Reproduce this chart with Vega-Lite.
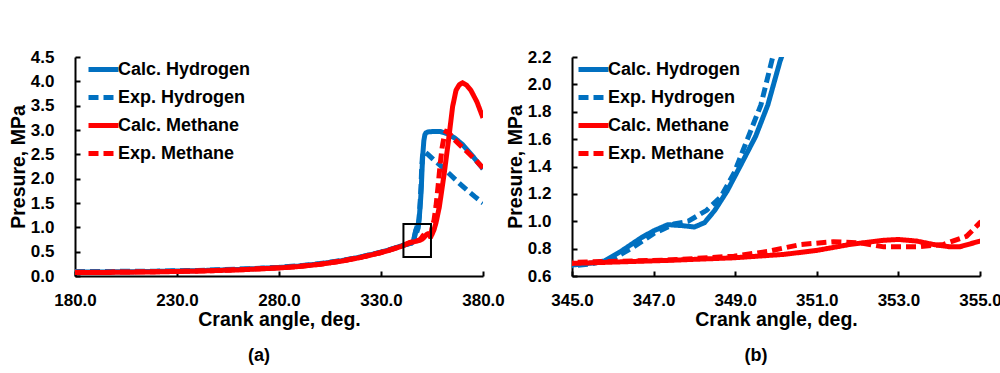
{
  "$schema": "https://vega.github.io/schema/vega-lite/v6.json",
  "padding": {"left": 8, "top": 48, "right": 5, "bottom": 5},
  "background": "white",
  "spacing": 89,
  "bounds": "flush",
  "config": {
    "font": "Liberation Sans",
    "view": {"stroke": null},
    "axis": {
      "grid": false,
      "domainColor": "black",
      "domainWidth": 2,
      "tickColor": "black",
      "tickWidth": 2,
      "tickSize": -5,
      "labelFlush": false,
      "labelOverlap": false,
      "labelFont": "Liberation Sans",
      "labelFontSize": 17,
      "labelFontWeight": "bold",
      "labelColor": "black",
      "titleFont": "Liberation Sans",
      "titleFontSize": 19.5,
      "titleFontWeight": "bold",
      "titleColor": "black"
    },
    "legend": {
      "orient": "none",
      "title": null,
      "labelFont": "Liberation Sans",
      "labelFontSize": 18,
      "labelFontWeight": "bold",
      "labelColor": "black",
      "symbolType": "stroke",
      "symbolSize": 900,
      "symbolStrokeWidth": 5,
      "labelOffset": -3,
      "rowPadding": 0,
      "padding": 0
    },
    "title": {"font": "Liberation Sans", "fontSize": 18, "fontWeight": "bold", "color": "black"}
  },
  "datasets": {
    "curves": [
      {"angle": 180, "p": 0.08, "series": "Calc. Hydrogen"},
      {"angle": 200, "p": 0.085, "series": "Calc. Hydrogen"},
      {"angle": 220, "p": 0.095, "series": "Calc. Hydrogen"},
      {"angle": 240, "p": 0.11, "series": "Calc. Hydrogen"},
      {"angle": 260, "p": 0.135, "series": "Calc. Hydrogen"},
      {"angle": 280, "p": 0.175, "series": "Calc. Hydrogen"},
      {"angle": 290, "p": 0.205, "series": "Calc. Hydrogen"},
      {"angle": 300, "p": 0.25, "series": "Calc. Hydrogen"},
      {"angle": 310, "p": 0.31, "series": "Calc. Hydrogen"},
      {"angle": 320, "p": 0.39, "series": "Calc. Hydrogen"},
      {"angle": 330, "p": 0.49, "series": "Calc. Hydrogen"},
      {"angle": 335, "p": 0.55, "series": "Calc. Hydrogen"},
      {"angle": 340, "p": 0.62, "series": "Calc. Hydrogen"},
      {"angle": 344, "p": 0.67, "series": "Calc. Hydrogen"},
      {"angle": 345, "p": 0.68, "series": "Calc. Hydrogen"},
      {"angle": 345.5, "p": 0.695, "series": "Calc. Hydrogen"},
      {"angle": 345.8, "p": 0.71, "series": "Calc. Hydrogen"},
      {"angle": 346.2, "p": 0.78, "series": "Calc. Hydrogen"},
      {"angle": 346.7, "p": 0.88, "series": "Calc. Hydrogen"},
      {"angle": 347.0, "p": 0.93, "series": "Calc. Hydrogen"},
      {"angle": 347.35, "p": 0.975, "series": "Calc. Hydrogen"},
      {"angle": 347.7, "p": 0.968, "series": "Calc. Hydrogen"},
      {"angle": 348.0, "p": 0.958, "series": "Calc. Hydrogen"},
      {"angle": 348.25, "p": 0.99, "series": "Calc. Hydrogen"},
      {"angle": 348.5, "p": 1.08, "series": "Calc. Hydrogen"},
      {"angle": 348.8, "p": 1.22, "series": "Calc. Hydrogen"},
      {"angle": 349.1, "p": 1.39, "series": "Calc. Hydrogen"},
      {"angle": 349.5, "p": 1.62, "series": "Calc. Hydrogen"},
      {"angle": 349.8, "p": 1.85, "series": "Calc. Hydrogen"},
      {"angle": 350.1, "p": 2.17, "series": "Calc. Hydrogen"},
      {"angle": 350.5, "p": 2.5, "series": "Calc. Hydrogen"},
      {"angle": 351, "p": 2.78, "series": "Calc. Hydrogen"},
      {"angle": 351.5, "p": 2.9, "series": "Calc. Hydrogen"},
      {"angle": 352, "p": 2.94, "series": "Calc. Hydrogen"},
      {"angle": 353, "p": 2.96, "series": "Calc. Hydrogen"},
      {"angle": 356, "p": 2.97, "series": "Calc. Hydrogen"},
      {"angle": 359, "p": 2.97, "series": "Calc. Hydrogen"},
      {"angle": 362, "p": 2.93, "series": "Calc. Hydrogen"},
      {"angle": 366, "p": 2.84, "series": "Calc. Hydrogen"},
      {"angle": 370, "p": 2.7, "series": "Calc. Hydrogen"},
      {"angle": 375, "p": 2.46, "series": "Calc. Hydrogen"},
      {"angle": 380, "p": 2.2, "series": "Calc. Hydrogen"},

      {"angle": 180, "p": 0.09, "series": "Exp. Hydrogen"},
      {"angle": 200, "p": 0.095, "series": "Exp. Hydrogen"},
      {"angle": 220, "p": 0.1, "series": "Exp. Hydrogen"},
      {"angle": 240, "p": 0.115, "series": "Exp. Hydrogen"},
      {"angle": 260, "p": 0.14, "series": "Exp. Hydrogen"},
      {"angle": 280, "p": 0.18, "series": "Exp. Hydrogen"},
      {"angle": 290, "p": 0.21, "series": "Exp. Hydrogen"},
      {"angle": 300, "p": 0.255, "series": "Exp. Hydrogen"},
      {"angle": 310, "p": 0.315, "series": "Exp. Hydrogen"},
      {"angle": 320, "p": 0.39, "series": "Exp. Hydrogen"},
      {"angle": 330, "p": 0.49, "series": "Exp. Hydrogen"},
      {"angle": 335, "p": 0.55, "series": "Exp. Hydrogen"},
      {"angle": 340, "p": 0.615, "series": "Exp. Hydrogen"},
      {"angle": 344, "p": 0.665, "series": "Exp. Hydrogen"},
      {"angle": 345, "p": 0.675, "series": "Exp. Hydrogen"},
      {"angle": 345.5, "p": 0.69, "series": "Exp. Hydrogen"},
      {"angle": 346.0, "p": 0.725, "series": "Exp. Hydrogen"},
      {"angle": 346.5, "p": 0.81, "series": "Exp. Hydrogen"},
      {"angle": 347.0, "p": 0.91, "series": "Exp. Hydrogen"},
      {"angle": 347.5, "p": 0.98, "series": "Exp. Hydrogen"},
      {"angle": 347.85, "p": 1.0, "series": "Exp. Hydrogen"},
      {"angle": 348.3, "p": 1.08, "series": "Exp. Hydrogen"},
      {"angle": 348.65, "p": 1.18, "series": "Exp. Hydrogen"},
      {"angle": 348.97, "p": 1.35, "series": "Exp. Hydrogen"},
      {"angle": 349.3, "p": 1.6, "series": "Exp. Hydrogen"},
      {"angle": 349.63, "p": 1.85, "series": "Exp. Hydrogen"},
      {"angle": 349.92, "p": 2.2, "series": "Exp. Hydrogen"},
      {"angle": 350.3, "p": 2.45, "series": "Exp. Hydrogen"},
      {"angle": 350.8, "p": 2.55, "series": "Exp. Hydrogen"},
      {"angle": 351.5, "p": 2.55, "series": "Exp. Hydrogen"},
      {"angle": 353, "p": 2.5, "series": "Exp. Hydrogen"},
      {"angle": 356, "p": 2.38, "series": "Exp. Hydrogen"},
      {"angle": 360, "p": 2.24, "series": "Exp. Hydrogen"},
      {"angle": 364, "p": 2.08, "series": "Exp. Hydrogen"},
      {"angle": 368, "p": 1.92, "series": "Exp. Hydrogen"},
      {"angle": 372, "p": 1.77, "series": "Exp. Hydrogen"},
      {"angle": 376, "p": 1.63, "series": "Exp. Hydrogen"},
      {"angle": 380, "p": 1.5, "series": "Exp. Hydrogen"},

      {"angle": 180, "p": 0.07, "series": "Calc. Methane"},
      {"angle": 200, "p": 0.075, "series": "Calc. Methane"},
      {"angle": 220, "p": 0.085, "series": "Calc. Methane"},
      {"angle": 240, "p": 0.1, "series": "Calc. Methane"},
      {"angle": 260, "p": 0.125, "series": "Calc. Methane"},
      {"angle": 280, "p": 0.165, "series": "Calc. Methane"},
      {"angle": 290, "p": 0.195, "series": "Calc. Methane"},
      {"angle": 300, "p": 0.24, "series": "Calc. Methane"},
      {"angle": 310, "p": 0.3, "series": "Calc. Methane"},
      {"angle": 320, "p": 0.38, "series": "Calc. Methane"},
      {"angle": 330, "p": 0.48, "series": "Calc. Methane"},
      {"angle": 335, "p": 0.54, "series": "Calc. Methane"},
      {"angle": 340, "p": 0.61, "series": "Calc. Methane"},
      {"angle": 344, "p": 0.68, "series": "Calc. Methane"},
      {"angle": 345, "p": 0.692, "series": "Calc. Methane"},
      {"angle": 347.34, "p": 0.714, "series": "Calc. Methane"},
      {"angle": 348.97, "p": 0.733, "series": "Calc. Methane"},
      {"angle": 350.2, "p": 0.758, "series": "Calc. Methane"},
      {"angle": 351, "p": 0.787, "series": "Calc. Methane"},
      {"angle": 351.8, "p": 0.83, "series": "Calc. Methane"},
      {"angle": 352.6, "p": 0.86, "series": "Calc. Methane"},
      {"angle": 353, "p": 0.867, "series": "Calc. Methane"},
      {"angle": 353.45, "p": 0.855, "series": "Calc. Methane"},
      {"angle": 353.86, "p": 0.83, "series": "Calc. Methane"},
      {"angle": 354.27, "p": 0.813, "series": "Calc. Methane"},
      {"angle": 354.5, "p": 0.813, "series": "Calc. Methane"},
      {"angle": 355, "p": 0.855, "series": "Calc. Methane"},
      {"angle": 356, "p": 0.95, "series": "Calc. Methane"},
      {"angle": 357, "p": 1.1, "series": "Calc. Methane"},
      {"angle": 358.6, "p": 1.42, "series": "Calc. Methane"},
      {"angle": 361, "p": 2.11, "series": "Calc. Methane"},
      {"angle": 363.1, "p": 2.79, "series": "Calc. Methane"},
      {"angle": 365.1, "p": 3.48, "series": "Calc. Methane"},
      {"angle": 366.8, "p": 3.82, "series": "Calc. Methane"},
      {"angle": 368.4, "p": 3.93, "series": "Calc. Methane"},
      {"angle": 370, "p": 3.97, "series": "Calc. Methane"},
      {"angle": 372, "p": 3.92, "series": "Calc. Methane"},
      {"angle": 374, "p": 3.82, "series": "Calc. Methane"},
      {"angle": 377, "p": 3.58, "series": "Calc. Methane"},
      {"angle": 380, "p": 3.25, "series": "Calc. Methane"},

      {"angle": 180, "p": 0.075, "series": "Exp. Methane"},
      {"angle": 200, "p": 0.08, "series": "Exp. Methane"},
      {"angle": 220, "p": 0.088, "series": "Exp. Methane"},
      {"angle": 240, "p": 0.102, "series": "Exp. Methane"},
      {"angle": 260, "p": 0.128, "series": "Exp. Methane"},
      {"angle": 280, "p": 0.168, "series": "Exp. Methane"},
      {"angle": 290, "p": 0.198, "series": "Exp. Methane"},
      {"angle": 300, "p": 0.243, "series": "Exp. Methane"},
      {"angle": 310, "p": 0.303, "series": "Exp. Methane"},
      {"angle": 320, "p": 0.383, "series": "Exp. Methane"},
      {"angle": 330, "p": 0.483, "series": "Exp. Methane"},
      {"angle": 335, "p": 0.545, "series": "Exp. Methane"},
      {"angle": 340, "p": 0.615, "series": "Exp. Methane"},
      {"angle": 344, "p": 0.685, "series": "Exp. Methane"},
      {"angle": 345, "p": 0.7, "series": "Exp. Methane"},
      {"angle": 347.34, "p": 0.716, "series": "Exp. Methane"},
      {"angle": 348.97, "p": 0.745, "series": "Exp. Methane"},
      {"angle": 349.8, "p": 0.78, "series": "Exp. Methane"},
      {"angle": 350.6, "p": 0.83, "series": "Exp. Methane"},
      {"angle": 351.4, "p": 0.85, "series": "Exp. Methane"},
      {"angle": 352.07, "p": 0.842, "series": "Exp. Methane"},
      {"angle": 352.64, "p": 0.813, "series": "Exp. Methane"},
      {"angle": 353.45, "p": 0.813, "series": "Exp. Methane"},
      {"angle": 354.1, "p": 0.83, "series": "Exp. Methane"},
      {"angle": 354.67, "p": 0.89, "series": "Exp. Methane"},
      {"angle": 355, "p": 0.99, "series": "Exp. Methane"},
      {"angle": 356, "p": 1.15, "series": "Exp. Methane"},
      {"angle": 357, "p": 1.45, "series": "Exp. Methane"},
      {"angle": 358, "p": 1.85, "series": "Exp. Methane"},
      {"angle": 359, "p": 2.3, "series": "Exp. Methane"},
      {"angle": 360, "p": 2.65, "series": "Exp. Methane"},
      {"angle": 361, "p": 2.88, "series": "Exp. Methane"},
      {"angle": 362, "p": 2.97, "series": "Exp. Methane"},
      {"angle": 363, "p": 2.96, "series": "Exp. Methane"},
      {"angle": 366, "p": 2.8, "series": "Exp. Methane"},
      {"angle": 371, "p": 2.6, "series": "Exp. Methane"},
      {"angle": 376, "p": 2.4, "series": "Exp. Methane"},
      {"angle": 380, "p": 2.22, "series": "Exp. Methane"}
    ],
    "box": [{"a1": 341, "a2": 354.5, "p1": 0.39, "p2": 1.07}]
  },
  "hconcat": [
    {
      "width": 408,
      "height": 219,
      "title": {"text": "(a)", "orient": "bottom", "dx": -20, "offset": 18},
      "layer": [
        {
          "data": {"name": "curves"},
          "mark": {"type": "line", "strokeWidth": 5, "clip": true},
          "encoding": {
            "x": {"field": "angle", "type": "quantitative", "scale": {"domain": [180, 380], "nice": false, "zero": false},
                  "axis": {"title": "Crank angle, deg.", "values": [180, 230, 280, 330, 380], "format": ".1f", "labelPadding": 21, "titlePadding": 2}},
            "y": {"field": "p", "type": "quantitative", "scale": {"domain": [0, 4.5], "nice": false},
                  "axis": {"title": "Presure, MPa", "values": [0, 0.5, 1, 1.5, 2, 2.5, 3, 3.5, 4, 4.5], "format": ".1f", "labelPadding": 26, "titlePadding": 2}},
            "color": {"field": "series", "type": "nominal",
                      "scale": {"domain": ["Calc. Hydrogen", "Exp. Hydrogen", "Calc. Methane", "Exp. Methane"], "range": ["#0070C0", "#0070C0", "#FF0000", "#FF0000"]},
                      "legend": {"legendX": 11, "legendY": -5}},
            "strokeDash": {"field": "series", "type": "nominal",
                      "scale": {"domain": ["Calc. Hydrogen", "Exp. Hydrogen", "Calc. Methane", "Exp. Methane"], "range": [[1, 0], [10, 5], [1, 0], [10, 5]]},
                      "legend": {"legendX": 11, "legendY": -5}}
          }
        },
        {
          "data": {"name": "box"},
          "mark": {"type": "rect", "fill": null, "stroke": "black", "strokeWidth": 2},
          "encoding": {
            "x": {"field": "a1", "type": "quantitative", "scale": {"domain": [180, 380], "nice": false, "zero": false},
                  "axis": {"title": "Crank angle, deg.", "values": [180, 230, 280, 330, 380], "format": ".1f", "labelPadding": 21, "titlePadding": 2}},
            "x2": {"field": "a2"},
            "y": {"field": "p1", "type": "quantitative", "scale": {"domain": [0, 4.5], "nice": false},
                  "axis": {"title": "Presure, MPa", "values": [0, 0.5, 1, 1.5, 2, 2.5, 3, 3.5, 4, 4.5], "format": ".1f", "labelPadding": 26, "titlePadding": 2}},
            "y2": {"field": "p2"}
          }
        }
      ]
    },
    {
      "width": 408,
      "height": 219,
      "title": {"text": "(b)", "orient": "bottom", "dx": -20, "offset": 18},
      "data": {"name": "curves"},
      "transform": [{"filter": "datum.angle >= 340 && datum.angle <= 358"}],
      "mark": {"type": "line", "strokeWidth": 5, "clip": true},
      "encoding": {
        "x": {"field": "angle", "type": "quantitative", "scale": {"domain": [345, 355], "nice": false, "zero": false},
              "axis": {"title": "Crank angle, deg.", "values": [345, 347, 349, 351, 353, 355], "format": ".1f", "labelPadding": 21, "titlePadding": 2}},
        "y": {"field": "p", "type": "quantitative", "scale": {"domain": [0.6, 2.2], "nice": false, "zero": false},
              "axis": {"title": "Presure, MPa", "values": [0.6, 0.8, 1.0, 1.2, 1.4, 1.6, 1.8, 2.0, 2.2], "format": ".1f", "labelPadding": 26, "titlePadding": 2}},
        "color": {"field": "series", "type": "nominal",
                  "scale": {"domain": ["Calc. Hydrogen", "Exp. Hydrogen", "Calc. Methane", "Exp. Methane"], "range": ["#0070C0", "#0070C0", "#FF0000", "#FF0000"]},
                  "legend": {"legendX": 4, "legendY": -5}},
        "strokeDash": {"field": "series", "type": "nominal",
                  "scale": {"domain": ["Calc. Hydrogen", "Exp. Hydrogen", "Calc. Methane", "Exp. Methane"], "range": [[1, 0], [10, 5], [1, 0], [10, 5]]},
                  "legend": {"legendX": 4, "legendY": -5}}
      }
    }
  ],
  "resolve": {
    "scale": {"x": "independent", "y": "independent"},
    "legend": {"color": "independent", "strokeDash": "independent"}
  }
}
